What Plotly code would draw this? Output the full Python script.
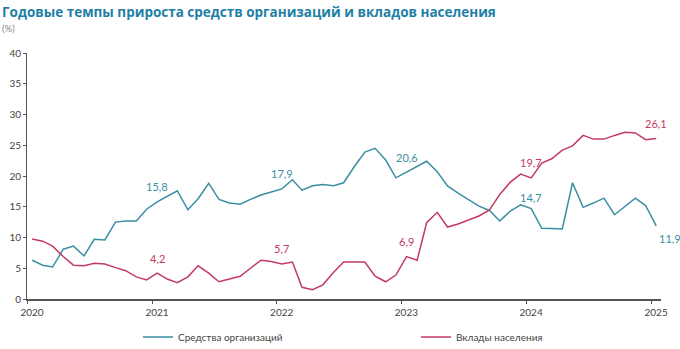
import pandas as pd
import plotly.graph_objects as go

# Monthly data, Jan 2020 .. Jan 2025
months = pd.date_range("2020-01-01", periods=61, freq="MS") + pd.Timedelta(days=15)

org_funds = [
    6.3, 5.5, 5.2, 8.1, 8.6, 7.0, 9.7, 9.6, 12.5, 12.7, 12.7, 14.6,
    15.8, 16.8, 17.6, 14.5, 16.3, 18.8, 16.2, 15.6, 15.4, 16.2, 16.9, 17.4,
    17.9, 19.4, 17.7, 18.4, 18.6, 18.4, 18.9, 21.5, 23.9, 24.5, 22.6, 19.7,
    20.6, 21.6, 22.4, 20.7, 18.4, 17.2, 16.1, 15.1, 14.4, 12.7, 14.3, 15.3,
    14.7, 11.5, 11.45, 11.4, 18.9, 14.9, 15.6, 16.4, 13.7, 15.0, 16.4, 15.2,
    11.9,
]
household_deposits = [
    9.75, 9.4, 8.6, 6.9, 5.5, 5.4, 5.8, 5.7, 5.1, 4.6, 3.6, 3.1,
    4.2, 3.2, 2.65, 3.6, 5.4, 4.2, 2.8, 3.2, 3.7, 5.0, 6.3, 6.1,
    5.7, 6.0, 1.9, 1.5, 2.3, 4.3, 6.0, 6.0, 6.0, 3.7, 2.8, 3.9,
    6.9, 6.3, 12.4, 14.1, 11.7, 12.2, 12.8, 13.5, 14.5, 17.0, 19.0, 20.3,
    19.7, 22.1, 22.8, 24.2, 24.9, 26.6, 26.0, 26.0, 26.6, 27.1, 27.0, 25.9,
    26.1,
]

label_idx = [12, 24, 36, 48, 60]
year_ticks = ["2020-01-01", "2021-01-01", "2022-01-01", "2023-01-01", "2024-01-01", "2025-01-01"]
year_labels = ["2020", "2021", "2022", "2023", "2024", "2025"]

BLUE = "#3a8ea4"
RED = "#c33a63"
TITLE = "#1e7fa5"
FONT = "Lato, 'Open Sans', sans-serif"

fig = go.Figure()
fig.add_trace(go.Scatter(x=months, y=org_funds, mode="lines", name="Средства организаций",
                         line=dict(color=BLUE, width=1.5), legend="legend"))
fig.add_trace(go.Scatter(x=months, y=household_deposits, mode="lines", name="Вклады населения",
                         line=dict(color=RED, width=1.5), legend="legend2"))

def fmt(v):
    return f"{v:.1f}".replace(".", ",")

for k, i in enumerate(label_idx):
    last = (k == len(label_idx) - 1)
    fig.add_annotation(x=months[i], y=org_funds[i], text=fmt(org_funds[i]),
                       showarrow=False, font=dict(color=BLUE, size=11, family=FONT),
                       xshift=14 if last else 0, yshift=-13 if last else (11 if i == 48 else 15))
    fig.add_annotation(x=months[i], y=household_deposits[i], text=fmt(household_deposits[i]),
                       showarrow=False, font=dict(color=RED, size=11, family=FONT),
                       yshift=15)

fig.add_annotation(xref="paper", yref="paper", x=-27/634, y=(349-12-50)/246,
                   xanchor="left", yanchor="middle", showarrow=False,
                   text="<b>Годовые темпы прироста средств организаций и вкладов населения</b>",
                   font=dict(color=TITLE, size=13.5, family="'Open Sans', sans-serif"))
fig.add_annotation(xref="paper", yref="paper", x=-27/634, y=(349-28-50)/246,
                   xanchor="left", yanchor="middle", showarrow=False,
                   text="(%)", font=dict(color="#888888", size=9.5, family=FONT))

legend_common = dict(orientation="h", xref="container", yref="container",
                     y=1 - 337/349, yanchor="middle", xanchor="left",
                     font=dict(size=10, color="#444444", family=FONT),
                     bgcolor="rgba(0,0,0,0)")

fig.update_layout(
    width=680, height=349,
    margin=dict(l=27, r=19, t=53, b=50, autoexpand=False),
    paper_bgcolor="white", plot_bgcolor="white",
    font=dict(family=FONT, size=10, color="#444444"),
    showlegend=True,
    legend=dict(x=138/680, **legend_common),
    legend2=dict(x=416/680, **legend_common),
)
fig.update_xaxes(
    type="date", range=["2020-01-01", "2025-01-30"],
    tickvals=year_ticks, ticktext=year_labels, ticklabelshift=5,
    showgrid=False, showline=True, linecolor="#555555", linewidth=1.5,
    ticks="outside", ticklen=3, tickcolor="#555555", zeroline=False,
)
fig.update_yaxes(
    range=[0, 40], tickvals=list(range(0, 45, 5)),
    showgrid=False, showline=True, linecolor="#555555", linewidth=1,
    ticks="outside", ticklen=3, tickcolor="#555555", zeroline=False,
)

fig.write_html("out.html")
